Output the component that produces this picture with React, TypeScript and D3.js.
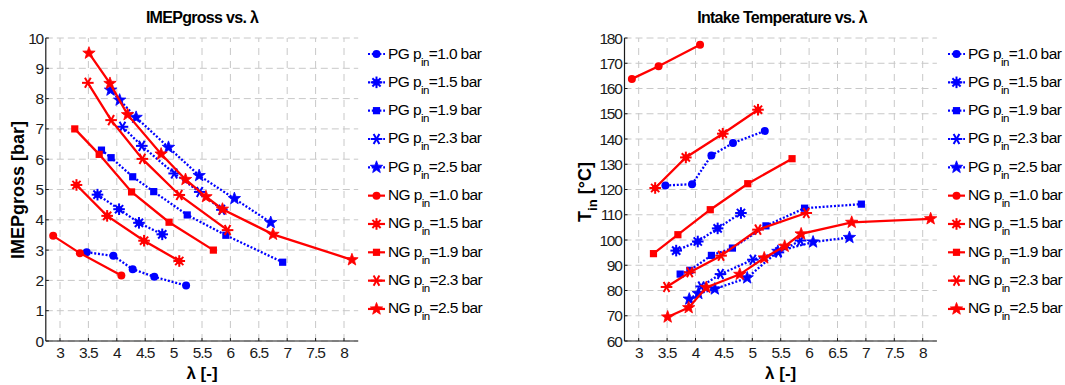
import React from "react";
import * as d3 from "d3";

// ---------- data ----------
const xTicks = [3, 3.5, 4, 4.5, 5, 5.5, 6, 6.5, 7, 7.5, 8];
const imepTicks = [0, 1, 2, 3, 4, 5, 6, 7, 8, 9, 10];
const tempTicks = [60, 70, 80, 90, 100, 110, 120, 130, 140, 150, 160, 170, 180];
const fuels = ["PG", "PG", "PG", "PG", "PG", "NG", "NG", "NG", "NG", "NG"];
const pressures = ["1.0", "1.5", "1.9", "2.3", "2.5", "1.0", "1.5", "1.9", "2.3", "2.5"];

const pg10Lambda = [3.47, 3.94, 4.28, 4.66, 5.22];
const pg10Imep = [2.93, 2.81, 2.37, 2.12, 1.83];
const pg10Temp = [121.6, 122.1, 133.5, 138.4, 143.2];

const pg15Lambda = [3.66, 4.04, 4.39, 4.8];
const pg15Imep = [4.83, 4.35, 3.9, 3.52];
const pg15Temp = [95.8, 99.4, 104.6, 110.7];

const pg19Lambda = [3.73, 3.9, 4.28, 4.65, 5.24, 5.92, 6.92];
const pg19Imep = [6.3, 6.05, 5.42, 4.93, 4.16, 3.49, 2.6];
const pg19Temp = [86.5, 88.0, 93.9, 96.8, 105.6, 112.6, 114.2];

const pg23Lambda = [4.1, 4.44, 5.01, 5.46, 5.85];
const pg23Imep = [7.07, 6.44, 5.53, 4.92, 4.33];
const pg23Temp = [81.6, 86.5, 92.2, 95.1, 99.8];

const pg25Lambda = [3.89, 4.05, 4.34, 4.91, 5.45, 6.07, 6.71];
const pg25Imep = [8.28, 7.95, 7.38, 6.39, 5.46, 4.7, 3.91];
const pg25Temp = [76.6, 78.8, 80.6, 85.0, 95.5, 99.2, 101.0];

const ng10Lambda = [2.88, 3.35, 4.08];
const ng10Imep = [3.47, 2.9, 2.16];
const ng10Temp = [163.8, 168.8, 177.3];

const ng15Lambda = [3.29, 3.83, 4.48, 5.1];
const ng15Imep = [5.15, 4.13, 3.31, 2.64];
const ng15Temp = [120.6, 132.7, 142.1, 151.6];

const ng19Lambda = [3.26, 3.69, 4.26, 4.92, 5.7];
const ng19Imep = [7.0, 6.16, 4.92, 3.92, 3.0];
const ng19Temp = [94.6, 102.1, 112.0, 122.3, 132.2];

const ng23Lambda = [3.49, 3.9, 4.45, 5.1, 5.95];
const ng23Imep = [8.52, 7.29, 6.01, 4.82, 3.66];
const ng23Temp = [81.4, 87.2, 93.8, 104.1, 110.7];

const ng25Lambda = [3.51, 3.88, 4.19, 4.78, 5.21, 5.57, 5.86, 6.75, 8.14];
const ng25Imep = [9.5, 8.5, 7.47, 6.17, 5.33, 4.76, 4.35, 3.52, 2.68];
const ng25Temp = [69.5, 73.2, 81.2, 86.4, 92.9, 97.5, 102.4, 107.0, 108.4];

const allLambda = [pg10Lambda, pg15Lambda, pg19Lambda, pg23Lambda, pg25Lambda, ng10Lambda, ng15Lambda, ng19Lambda, ng23Lambda, ng25Lambda];
const allImep = [pg10Imep, pg15Imep, pg19Imep, pg23Imep, pg25Imep, ng10Imep, ng15Imep, ng19Imep, ng23Imep, ng25Imep];
const allTemp = [pg10Temp, pg15Temp, pg19Temp, pg23Temp, pg25Temp, ng10Temp, ng15Temp, ng19Temp, ng23Temp, ng25Temp];

// ---------- styling ----------
const FONT = "'Liberation Sans', Arial, Helvetica, sans-serif";
const BLUE = "#0000ff";
const RED = "#ff0000";
const GRID = "#c8c8c8";
const AXIS = "#1a1a1a";

function Marker({ type, x, y, color }: { type: number; x: number; y: number; color: string }) {
  if (type === 0) return <circle cx={x} cy={y} r={4} fill={color} />;
  if (type === 2) return <rect x={x - 3.6} y={y - 3.6} width={7.2} height={7.2} fill={color} />;
  if (type === 1) {
    const r = 5.8;
    const spokes = [0, 45, 90, 135].map((a) => {
      const t = (a * Math.PI) / 180;
      return (
        <line key={a} x1={x - r * Math.cos(t)} y1={y - r * Math.sin(t)} x2={x + r * Math.cos(t)} y2={y + r * Math.sin(t)} stroke={color} strokeWidth={2} />
      );
    });
    return (
      <g>
        <circle cx={x} cy={y} r={3.3} fill={color} />
        {spokes}
      </g>
    );
  }
  if (type === 3) {
    const r = 5.8;
    const spokes = [0, 60, 120].map((a) => {
      const t = (a * Math.PI) / 180;
      return (
        <line key={a} x1={x - r * Math.cos(t)} y1={y - r * Math.sin(t)} x2={x + r * Math.cos(t)} y2={y + r * Math.sin(t)} stroke={color} strokeWidth={2} />
      );
    });
    return <g>{spokes}</g>;
  }
  // pentagram
  const ro = 6.5;
  const ri = 2.7;
  const pts: string[] = [];
  for (let i = 0; i < 10; i++) {
    const r = i % 2 === 0 ? ro : ri;
    const t = -Math.PI / 2 + (i * Math.PI) / 5;
    pts.push(`${x + r * Math.cos(t)},${y + r * Math.sin(t)}`);
  }
  return <polygon points={pts.join(" ")} fill={color} stroke={color} strokeWidth={0.8} strokeLinejoin="miter" />;
}

type PlotProps = {
  xLeft: number;
  xRight: number;
  yDomain: [number, number];
  yTicks: number[];
  yValues: number[][];
  title: string;
  titleX: number;
  ylabel: React.ReactNode;
  legendX: number;
};

function Plot({ xLeft, xRight, yDomain, yTicks, yValues, title, titleX, ylabel, legendX }: PlotProps) {
  const x = d3.scaleLinear().domain([2.75, 8.25]).range([xLeft, xRight]);
  const y = d3.scaleLinear().domain(yDomain).range([341, 38]);
  const line = d3
    .line<[number, number]>()
    .x((d) => x(d[0]))
    .y((d) => y(d[1]));

  return (
    <g fontFamily={FONT}>
      {/* grid */}
      {xTicks.map((t) => (
        <line key={"gx" + t} x1={x(t)} x2={x(t)} y1={y(yDomain[0])} y2={y(yDomain[1])} stroke={GRID} strokeWidth={1} strokeDasharray="7,6" />
      ))}
      {yTicks.map((t) => (
        <line key={"gy" + t} x1={xLeft} x2={xRight} y1={y(t)} y2={y(t)} stroke={GRID} strokeWidth={1} strokeDasharray="7,4" />
      ))}
      {/* series */}
      {allLambda.map((lam, i) => {
        const pts = lam.map((l, j) => [l, yValues[i][j]] as [number, number]);
        const isPG = fuels[i] === "PG";
        const color = isPG ? BLUE : RED;
        return (
          <g key={"s" + i}>
            <path d={line(pts) || ""} fill="none" stroke={color} strokeWidth={2.3} strokeDasharray={isPG ? "2,1.8" : undefined} />
            {pts.map((p, j) => (
              <Marker key={j} type={i % 5} x={x(p[0])} y={y(p[1])} color={color} />
            ))}
          </g>
        );
      })}
      {/* axes */}
      <line x1={xLeft} x2={xRight} y1={y(yDomain[0])} y2={y(yDomain[0])} stroke={AXIS} strokeWidth={1.2} />
      <line x1={xLeft} x2={xLeft} y1={y(yDomain[0])} y2={y(yDomain[1])} stroke={AXIS} strokeWidth={1.2} />
      {xTicks.map((t) => (
        <g key={"tx" + t}>
          <line x1={x(t)} x2={x(t)} y1={y(yDomain[0])} y2={y(yDomain[0]) - 3} stroke={AXIS} />
          <text x={x(t)} y={358} textAnchor="middle" fontSize={15.5} fill={AXIS} letterSpacing="-1">
            {String(t)}
          </text>
        </g>
      ))}
      {yTicks.map((t) => (
        <g key={"ty" + t}>
          <line x1={xLeft} x2={xLeft + 3} y1={y(t)} y2={y(t)} stroke={AXIS} />
          <text x={xLeft - 3} y={y(t) + 5.5} textAnchor="end" fontSize={15.5} fill={AXIS} letterSpacing="-1.3">
            {String(t)}
          </text>
        </g>
      ))}
      {/* title */}
      <text x={titleX} y={23} textAnchor="middle" fontSize={16} fontWeight="bold" letterSpacing="-0.7" fill="#000">
        {title}
      </text>
      {/* x label */}
      <text x={(xLeft + xRight) / 2} y={379} textAnchor="middle" fontSize={17} fontWeight="bold" fill="#000">
        λ [-]
      </text>
      {ylabel}
      {/* legend */}
      {fuels.map((f, i) => {
        const ly = 54 + i * 28.33;
        const isPG = f === "PG";
        const color = isPG ? BLUE : RED;
        return (
          <g key={"lg" + i}>
            <line x1={legendX} x2={legendX + 17} y1={ly} y2={ly} stroke={color} strokeWidth={2.2} strokeDasharray={isPG ? "2,1.8" : undefined} />
            <Marker type={i % 5} x={legendX + 8.5} y={ly} color={color} />
            <text x={legendX + 20} y={ly + 4.5} fontSize={15.5} fill="#000" letterSpacing="-0.6">
              {f} p
              <tspan fontSize={11.5} dy={7}>in</tspan>
              <tspan dy={-7}>={pressures[i]} bar</tspan>
            </text>
          </g>
        );
      })}
    </g>
  );
}

export default function App() {
  return (
    <svg width={1065} height={385} style={{ display: "block", position: "absolute", left: 0, top: 0, background: "#fff" }}>
      <rect width={1065} height={385} fill="#fff" />
      <Plot
        xLeft={45.8}
        xRight={358.2}
        yDomain={[0, 10]}
        yTicks={imepTicks}
        yValues={allImep}
        title="IMEPgross vs. λ"
        titleX={202}
        legendX={368}
        ylabel={
          <text transform="translate(24,190) rotate(-90)" textAnchor="middle" fontSize={18} fontWeight="bold" fill="#000" fontFamily={FONT}>
            IMEPgross [bar]
          </text>
        }
      />
      <Plot
        xLeft={624.5}
        xRight={936.9}
        yDomain={[60, 180]}
        yTicks={tempTicks}
        yValues={allTemp}
        title="Intake Temperature vs. λ"
        titleX={782}
        legendX={948}
        ylabel={
          <text transform="translate(591,192) rotate(-90)" textAnchor="middle" fontSize={18} fontWeight="bold" fill="#000" fontFamily={FONT}>
            T<tspan fontSize={13} dy={6}>in</tspan>
            <tspan dy={-6}> [°C]</tspan>
          </text>
        }
      />
    </svg>
  );
}
